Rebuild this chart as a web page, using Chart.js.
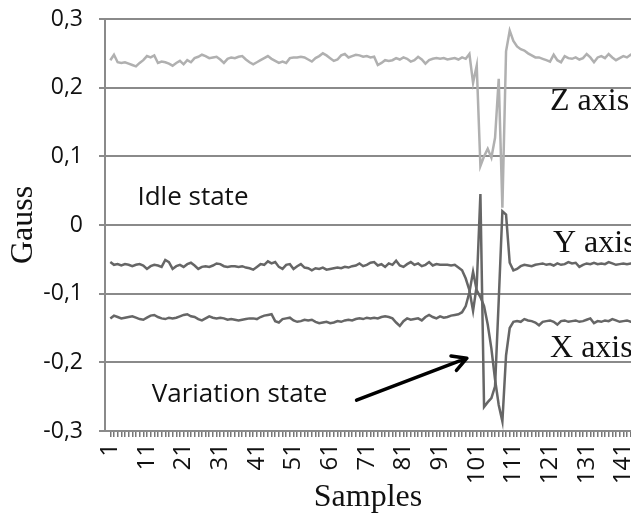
<!DOCTYPE html>
<html lang="en">
<head>
    <meta charset="UTF-8">
    <title>Gauss samples</title>
    <style>
        html, body { margin: 0; padding: 0; background: #fff; }
        #wrap { width: 631px; height: 521px; }
    </style>
</head>
<body>
<div id="wrap"><canvas id="chart" width="631" height="521"></canvas></div>

<script src="https://cdn.jsdelivr.net/npm/chart.js"></script>
<script>
    // sample numbers 1..144
    const samples = [];
    for (let i = 1; i <= 144; i++) samples.push(i);

    const zAxis = [
        0.240, 0.248, 0.237, 0.236, 0.237, 0.235, 0.233, 0.231, 0.236, 0.240,
        0.246, 0.244, 0.247, 0.236, 0.238, 0.237, 0.235, 0.232, 0.236, 0.239,
        0.234, 0.240, 0.237, 0.243, 0.245, 0.248, 0.246, 0.243, 0.244, 0.245,
        0.241, 0.236, 0.242, 0.244, 0.243, 0.245, 0.246, 0.241, 0.237, 0.234,
        0.237, 0.240, 0.243, 0.246, 0.242, 0.239, 0.236, 0.238, 0.236, 0.243,
        0.244, 0.244, 0.245, 0.244, 0.241, 0.238, 0.243, 0.246, 0.250, 0.247,
        0.243, 0.239, 0.241, 0.247, 0.249, 0.244, 0.246, 0.248, 0.247, 0.245,
        0.246, 0.244, 0.245, 0.233, 0.236, 0.240, 0.239, 0.240, 0.243, 0.241,
        0.244, 0.242, 0.238, 0.240, 0.245, 0.241, 0.235, 0.240, 0.242, 0.243,
        0.242, 0.243, 0.241, 0.242, 0.243, 0.241, 0.244, 0.242, 0.249, 0.207,
        0.232, 0.086, 0.100, 0.111, 0.098, 0.127, 0.213, 0.025, 0.253, 0.283,
        0.268, 0.260, 0.256, 0.254, 0.250, 0.247, 0.244, 0.244, 0.242, 0.240,
        0.238, 0.248, 0.240, 0.237, 0.246, 0.243, 0.242, 0.244, 0.241, 0.243,
        0.249, 0.244, 0.237, 0.244, 0.246, 0.243, 0.249, 0.244, 0.240, 0.243,
        0.246, 0.244, 0.248, 0.245
    ];

    const yAxis = [
        -0.054, -0.058, -0.057, -0.059, -0.057, -0.058, -0.060, -0.058, -0.057, -0.059,
        -0.064, -0.060, -0.058, -0.059, -0.061, -0.051, -0.054, -0.064, -0.060, -0.058,
        -0.061, -0.057, -0.055, -0.059, -0.064, -0.061, -0.060, -0.061, -0.059, -0.056,
        -0.057, -0.060, -0.061, -0.060, -0.060, -0.061, -0.060, -0.062, -0.063, -0.065,
        -0.061, -0.057, -0.058, -0.053, -0.056, -0.054, -0.061, -0.064, -0.058, -0.057,
        -0.064, -0.060, -0.057, -0.062, -0.063, -0.066, -0.063, -0.064, -0.062, -0.065,
        -0.064, -0.063, -0.062, -0.063, -0.061, -0.062, -0.060, -0.059, -0.056, -0.060,
        -0.058, -0.055, -0.054, -0.059, -0.057, -0.061, -0.056, -0.058, -0.052, -0.059,
        -0.061, -0.057, -0.054, -0.058, -0.056, -0.060, -0.058, -0.054, -0.059, -0.057,
        -0.058, -0.058, -0.058, -0.059, -0.058, -0.062, -0.066, -0.078, -0.095, -0.125,
        -0.088, 0.045, -0.265, -0.258, -0.252, -0.235, -0.110, 0.020, 0.015, -0.055,
        -0.066, -0.064, -0.060, -0.058, -0.059, -0.060, -0.058, -0.057, -0.056, -0.058,
        -0.057, -0.059, -0.056, -0.058, -0.057, -0.054, -0.056, -0.055, -0.061, -0.058,
        -0.056, -0.057, -0.055, -0.057, -0.056, -0.057, -0.054, -0.056, -0.058, -0.057,
        -0.056, -0.057, -0.056, -0.057
    ];

    const xAxis = [
        -0.136, -0.132, -0.134, -0.136, -0.135, -0.134, -0.133, -0.135, -0.137, -0.138,
        -0.135, -0.132, -0.131, -0.134, -0.136, -0.137, -0.135, -0.136, -0.135, -0.133,
        -0.131, -0.130, -0.133, -0.134, -0.137, -0.139, -0.136, -0.133, -0.135, -0.136,
        -0.135, -0.136, -0.138, -0.137, -0.138, -0.139, -0.138, -0.137, -0.136, -0.136,
        -0.137, -0.134, -0.132, -0.131, -0.130, -0.140, -0.142, -0.137, -0.136, -0.135,
        -0.139, -0.141, -0.140, -0.138, -0.139, -0.138, -0.141, -0.143, -0.142, -0.141,
        -0.143, -0.142, -0.140, -0.141, -0.139, -0.138, -0.139, -0.137, -0.136, -0.137,
        -0.135, -0.136, -0.135, -0.136, -0.134, -0.133, -0.134, -0.136, -0.142, -0.147,
        -0.140, -0.136, -0.138, -0.137, -0.136, -0.139, -0.134, -0.131, -0.134, -0.136,
        -0.133, -0.135, -0.134, -0.132, -0.131, -0.130, -0.127, -0.118, -0.098, -0.068,
        -0.095, -0.105, -0.118, -0.145, -0.180, -0.225, -0.262, -0.286, -0.190, -0.150,
        -0.141, -0.140, -0.141, -0.137, -0.139, -0.140, -0.142, -0.146, -0.141, -0.140,
        -0.139, -0.141, -0.145, -0.140, -0.139, -0.141, -0.140, -0.139, -0.141, -0.140,
        -0.138, -0.136, -0.143, -0.140, -0.141, -0.139, -0.140, -0.137, -0.139, -0.141,
        -0.140, -0.139, -0.141, -0.140
    ];

    const yTicks = [-0.3, -0.2, -0.1, 0, 0.1, 0.2, 0.3];

    // text notes placed in data coordinates (sample, gauss)
    const notes = [
        { text: 'Z axis', x: 121, y: 0.167, font: '32px "Liberation Serif", serif' },
        { text: 'Y axis', x: 121.8, y: -0.039, font: '32px "Liberation Serif", serif' },
        { text: 'X axis', x: 121, y: -0.192, font: '32px "Liberation Serif", serif' },
        { text: 'Idle state', x: 8.4, y: 0.029, font: '26px "Open Sans", sans-serif' },
        { text: 'Variation state', x: 12.3, y: -0.258, font: '26px "Open Sans", sans-serif' }
    ];
    const arrowFrom = { x: 68.2, y: -0.255 };
    const arrowTo = { x: 98.3, y: -0.194 };

    const gridGray = '#8a8a8a';

    const notesPlugin = {
        id: 'notes',
        afterDatasetsDraw(chart) {
            const ctx = chart.ctx;
            const xs = chart.scales.x, ys = chart.scales.y;
            ctx.save();
            ctx.fillStyle = '#111';
            ctx.textBaseline = 'alphabetic';
            ctx.textAlign = 'left';
            notes.forEach(n => {
                ctx.font = n.font;
                ctx.fillText(n.text, xs.getPixelForValue(n.x), ys.getPixelForValue(n.y));
            });
            // arrow
            const x1 = xs.getPixelForValue(arrowFrom.x), y1 = ys.getPixelForValue(arrowFrom.y);
            const x2 = xs.getPixelForValue(arrowTo.x), y2 = ys.getPixelForValue(arrowTo.y);
            const ang = Math.atan2(y2 - y1, x2 - x1);
            ctx.strokeStyle = '#000';
            ctx.lineWidth = 3.5;
            ctx.lineCap = 'round';
            ctx.lineJoin = 'round';
            ctx.beginPath();
            ctx.moveTo(x1, y1);
            ctx.lineTo(x2, y2);
            ctx.moveTo(x2 - 16 * Math.cos(ang - 0.5), y2 - 16 * Math.sin(ang - 0.5));
            ctx.lineTo(x2, y2);
            ctx.lineTo(x2 - 16 * Math.cos(ang + 0.5), y2 - 16 * Math.sin(ang + 0.5));
            ctx.stroke();
            ctx.restore();
        }
    };

    new Chart(document.getElementById('chart'), {
        type: 'line',
        data: {
            labels: samples,
            datasets: [
                { label: 'Z axis', data: zAxis, borderColor: '#b0b0b0', borderWidth: 2.5 },
                { label: 'Y axis', data: yAxis, borderColor: '#666666', borderWidth: 2.5 },
                { label: 'X axis', data: xAxis, borderColor: '#666666', borderWidth: 2.5 }
            ]
        },
        options: {
            responsive: false,
            animation: false,
            layout: { padding: { top: 19, right: 0, bottom: 0, left: 0 } },
            elements: { point: { radius: 0 }, line: { tension: 0 } },
            plugins: { legend: { display: false }, tooltip: { enabled: false } },
            scales: {
                x: {
                    type: 'linear',
                    min: -0.45,
                    max: 143.1,
                    afterBuildTicks: (scale) => {
                        scale.ticks = samples.filter(v => v <= 143).map(v => ({ value: v }));
                    },
                    afterFit: (scale) => {
                        scale.height = 90;
                        scale.paddingLeft = 0;
                        scale.paddingRight = 0;
                    },
                    ticks: {
                        autoSkip: false,
                        minRotation: 90,
                        maxRotation: 90,
                        padding: 6,
                        color: '#111',
                        font: { family: '"Open Sans", sans-serif', size: 24 },
                        callback: (v) => ((v - 1) % 10 === 0 ? String(v) : '')
                    },
                    grid: { drawOnChartArea: false, drawTicks: true, tickLength: 6, color: '#777', lineWidth: 1.5 },
                    border: { display: true, color: gridGray, width: 2 },
                    title: {
                        display: true,
                        text: 'Samples',
                        color: '#111',
                        padding: { top: 0, bottom: 4 },
                        font: { family: '"Liberation Serif", serif', size: 32 }
                    }
                },
                y: {
                    min: -0.3,
                    max: 0.3,
                    afterBuildTicks: (scale) => {
                        scale.ticks = yTicks.map(v => ({ value: v }));
                    },
                    afterFit: (scale) => {
                        scale.width = 105;
                        scale.paddingTop = 0;
                        scale.paddingBottom = 0;
                    },
                    ticks: {
                        padding: 16,
                        color: '#111',
                        font: { family: '"Open Sans", sans-serif', size: 23 },
                        callback: (v) => {
                            const r = Math.round(v * 10) / 10;
                            return r === 0 ? '0' : r.toFixed(1).replace('.', ',');
                        }
                    },
                    grid: { color: gridGray, lineWidth: 2, tickLength: 6 },
                    border: { display: true, color: gridGray, width: 2 },
                    title: {
                        display: true,
                        text: 'Gauss',
                        color: '#111',
                        padding: { top: 4, bottom: 0 },
                        font: { family: '"Liberation Serif", serif', size: 32 }
                    }
                }
            }
        },
        plugins: [notesPlugin]
    });
</script>
</body>
</html>
